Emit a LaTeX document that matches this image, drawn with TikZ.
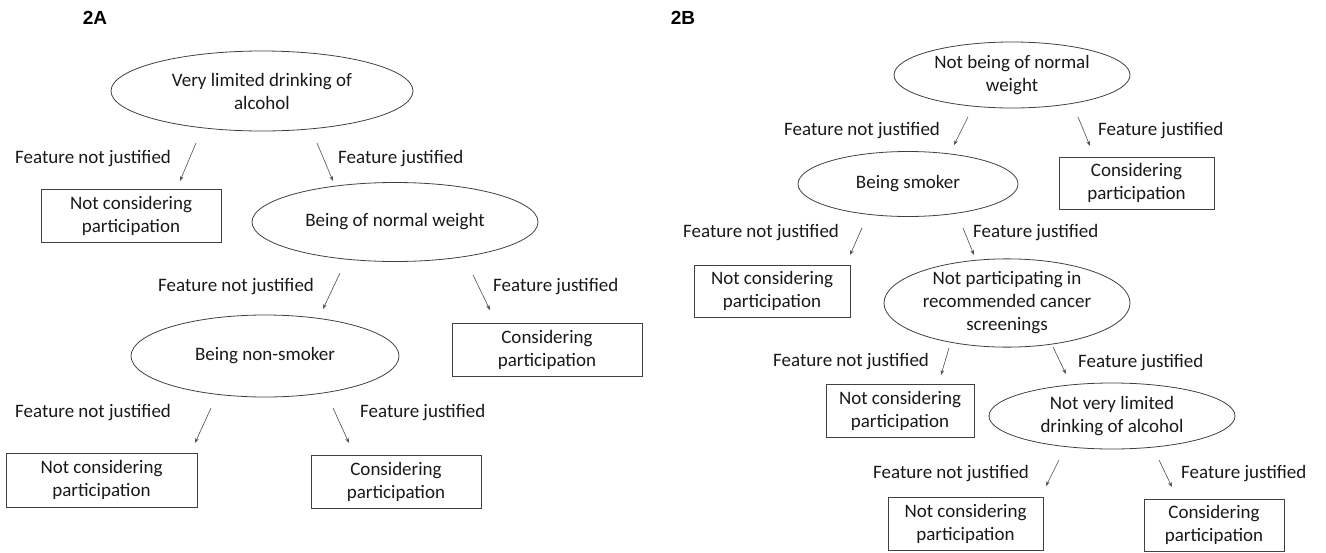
\documentclass[tikz,border=0pt]{standalone}
\usepackage{fontspec}
\setmainfont{Carlito}
\newfontfamily\labfont{Liberation Sans}
\usetikzlibrary{shapes.geometric,arrows.meta}
\begin{document}
\begin{tikzpicture}[x=1pt,y=-1pt,
  every node/.style={font=\fontsize{19}{23}\selectfont, text=black!90},
  oval/.style={ellipse, draw=black!75, line width=0.8pt, inner sep=0pt, align=center},
  res/.style={rectangle, draw=black!75, line width=0.8pt, inner sep=0pt, align=center},
  lbl/.style={anchor=west, inner sep=0pt},
  arr/.style={draw=black!70, line width=0.6pt, -{Stealth[length=5pt,width=3.5pt]}},
  panel/.style={font=\labfont\bfseries\fontsize{19}{21}\selectfont, inner sep=0pt, text=black}
]
\useasboundingbox (0,0) rectangle (1326,552);

% ---------- Panel A ----------
\node[panel] (pA) at (95,18) {2A};
\node[oval, minimum width=302, minimum height=80] (a1) at (262,91) {Very limited drinking of\\alcohol};
\node[res, minimum width=180, minimum height=53] (a1n) at (131,215.5) {Not considering\\participation};
\node[oval, minimum width=286, minimum height=79] (a2) at (395,222) {Being of normal weight};
\node[res, minimum width=190, minimum height=53] (a2y) at (547,349.5) {Considering\\participation};
\node[oval, minimum width=268, minimum height=82] (a3) at (265,356) {Being non-smoker};
\node[res, minimum width=191, minimum height=54] (a3n) at (101.5,480) {Not considering\\participation};
\node[res, minimum width=170, minimum height=53] (a3y) at (396,481.5) {Considering\\participation};

\node[lbl] (la1n) at (15,159) {Feature not justified};
\node[lbl] (la1y) at (338,159) {Feature justified};
\node[lbl] (la2n) at (158,287) {Feature not justified};
\node[lbl] (la2y) at (493,287) {Feature justified};
\node[lbl] (la3n) at (15,413) {Feature not justified};
\node[lbl] (la3y) at (360,413) {Feature justified};

\coordinate (a1ls) at (196,143); \coordinate (a1le) at (180,181);
\coordinate (a1rs) at (317,143); \coordinate (a1re) at (333,181);
\coordinate (a2ls) at (340,273); \coordinate (a2le) at (323,309);
\coordinate (a2rs) at (473,275); \coordinate (a2re) at (490,310);
\coordinate (a3ls) at (211,408); \coordinate (a3le) at (195,443);
\coordinate (a3rs) at (333,408); \coordinate (a3re) at (349,443);
\draw[arr] (a1ls) -- (a1le);
\draw[arr] (a1rs) -- (a1re);
\draw[arr] (a2ls) -- (a2le);
\draw[arr] (a2rs) -- (a2re);
\draw[arr] (a3ls) -- (a3le);
\draw[arr] (a3rs) -- (a3re);

% ---------- Panel B ----------
\node[panel] (pB) at (683,18) {2B};
\node[oval, minimum width=236, minimum height=66] (b1) at (1012,75) {Not being of normal\\weight};
\node[res, minimum width=155, minimum height=52] (b1y) at (1136.5,183) {Considering\\participation};
\node[oval, minimum width=220, minimum height=65] (b2) at (908,184) {Being smoker};
\node[res, minimum width=156, minimum height=52] (b2n) at (772,291) {Not considering\\participation};
\node[oval, minimum width=246, minimum height=82] (b3) at (1007,303) {Not participating in\\recommended cancer\\screenings};
\node[res, minimum width=148, minimum height=53] (b3n) at (900,410.5) {Not considering\\participation};
\node[oval, minimum width=246, minimum height=66] (b4) at (1112,416) {Not very limited\\drinking of alcohol};
\node[res, minimum width=155, minimum height=53] (b4n) at (965.5,523.5) {Not considering\\participation};
\node[res, minimum width=140, minimum height=52] (b4y) at (1214,525) {Considering\\participation};

\node[lbl] (lb1n) at (784,131) {Feature not justified};
\node[lbl] (lb1y) at (1098,131) {Feature justified};
\node[lbl] (lb2n) at (683,233) {Feature not justified};
\node[lbl] (lb2y) at (973,233) {Feature justified};
\node[lbl] (lb3n) at (773,362) {Feature not justified};
\node[lbl] (lb3y) at (1078,363) {Feature justified};
\node[lbl] (lb4n) at (873,474) {Feature not justified};
\node[lbl] (lb4y) at (1181,474) {Feature justified};

\coordinate (b1ls) at (968,117);  \coordinate (b1le) at (954,145);
\coordinate (b1rs) at (1078,117); \coordinate (b1re) at (1090,146);
\coordinate (b2ls) at (862,228);  \coordinate (b2le) at (850,255);
\coordinate (b2rs) at (963,228);  \coordinate (b2re) at (974,255);
\coordinate (b3ls) at (949,348);  \coordinate (b3le) at (941,375);
\coordinate (b3rs) at (1053,347); \coordinate (b3re) at (1066,374);
\coordinate (b4ls) at (1059,460); \coordinate (b4le) at (1046,486);
\coordinate (b4rs) at (1159,460); \coordinate (b4re) at (1172,487);
\draw[arr] (b1ls) -- (b1le);
\draw[arr] (b1rs) -- (b1re);
\draw[arr] (b2ls) -- (b2le);
\draw[arr] (b2rs) -- (b2re);
\draw[arr] (b3ls) -- (b3le);
\draw[arr] (b3rs) -- (b3re);
\draw[arr] (b4ls) -- (b4le);
\draw[arr] (b4rs) -- (b4re);
\end{tikzpicture}
\end{document}
